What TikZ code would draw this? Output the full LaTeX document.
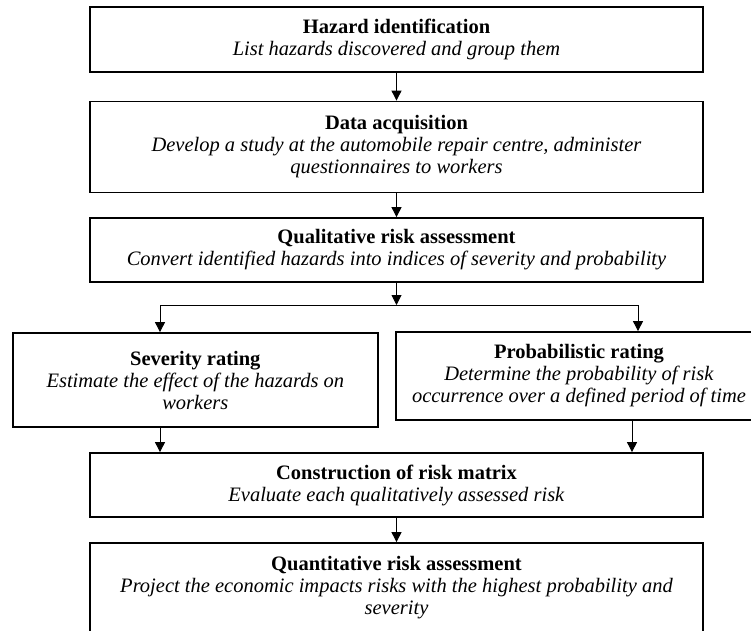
\documentclass[tikz,border=0pt]{standalone}
\usepackage{fontspec}
\setmainfont{Liberation Serif}
\usetikzlibrary{arrows.meta}

\begin{document}
\begin{tikzpicture}[x=1pt, y=-1pt, >={Triangle[length=10pt,width=10pt]}, line width=0.9pt,
    box/.style={draw, line width=1.8pt, align=center, inner sep=0pt,
        font=\fontsize{20.5}{22}\selectfont}]
    % 画布范围
    \clip (0,0) rectangle (751,630);

    % 中间一列的方框
    \node[box, minimum width=613pt, minimum height=65pt] (hazard) at (396.5, 39.5)
        {\textbf{Hazard identification}\\ \textit{List hazards discovered and group them}};
    \node[box, minimum width=613pt, minimum height=91pt] (data) at (396.5, 147)
        {\textbf{Data acquisition}\\ \textit{Develop a study at the automobile repair centre, administer}\\ \textit{questionnaires to workers}};
    \node[box, minimum width=613pt, minimum height=64pt] (qual) at (396.5, 250)
        {\textbf{Qualitative risk assessment}\\ \textit{Convert identified hazards into indices of severity and probability}};

    % 左右两个评级方框
    \node[box, minimum width=365pt, minimum height=94pt] (sev) at (195.3, 380)
        {\textbf{Severity rating}\\ \textit{Estimate the effect of the hazards on}\\ \textit{workers}};
    \node[box, minimum width=366pt, minimum height=88pt] (prob) at (579, 376)
        {\textbf{Probabilistic rating}\\ \textit{Determine the probability of risk}\\ \textit{occurrence over a defined period of time}};

    % 下方两个方框
    \node[box, minimum width=613pt, minimum height=64pt] (constr) at (396.5, 485)
        {\textbf{Construction of risk matrix}\\ \textit{Evaluate each qualitatively assessed risk}};
    \node[box, minimum width=613pt, minimum height=90pt] (quant) at (396.5, 588)
        {\textbf{Quantitative risk assessment}\\ \textit{Project the economic impacts risks with the highest probability and}\\ \textit{severity}};

    % 主干箭头
    \draw[->] (hazard) -- (data);
    \draw[->] (data) -- (qual);

    % 分叉点
    \coordinate (fork) at (396.5, 305);
    \coordinate (forkL) at (160, 305);
    \coordinate (forkR) at (638, 305);
    \draw[->] (qual) -- (fork);
    \draw (forkL) -- (forkR);
    \draw[->] (forkL) -- (forkL |- sev.north);
    \draw[->] (forkR) -- (forkR |- prob.north);

    % 汇合到风险矩阵
    \coordinate (joinR) at (632, 0);
    \draw[->] (forkL |- sev.south) -- (forkL |- constr.north);
    \draw[->] (joinR |- prob.south) -- (joinR |- constr.north);
    \draw[->] (constr) -- (quant);
\end{tikzpicture}
\end{document}
